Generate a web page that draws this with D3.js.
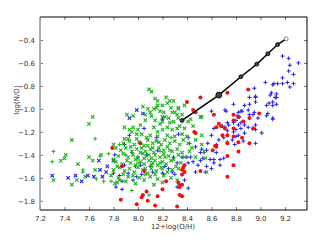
<!DOCTYPE html>
<html>
<head>
<meta charset="utf-8">
<script src="https://cdn.jsdelivr.net/npm/d3@7"></script>
<style>
body { margin: 0; background: #fff; font-family: "DejaVu Sans", Arial, sans-serif; }
svg { font-size: 7px; }
.tick text { fill: #333; }
.tick line { stroke: #777; }
.axis path { display: none; }
</style>
</head>
<body>
<svg id="chart" width="327" height="247"></svg>
<script>
// tick labels
var xTicks = [7.2, 7.4, 7.6, 7.8, 8.0, 8.2, 8.4, 8.6, 8.8, 9.0, 9.2];
var yTicks = [-0.4, -0.6, -0.8, -1.0, -1.2, -1.4, -1.6, -1.8];

// green "x" sample
var greenX = [
  [7.63,-1.07],[7.60,-1.13],[7.46,-1.27],[7.31,-1.62],[7.46,-1.66],[7.41,-1.40],[7.40,-1.43],
  [7.37,-1.45],[7.51,-1.48],[7.50,-1.62],[7.70,-1.40],[7.60,-1.42],[7.63,-1.45],[7.80,-1.31],
  [7.82,-1.34],[7.57,-1.59],[7.81,-1.65],[7.85,-1.62],[7.83,-1.50],[7.80,-1.44],[7.65,-1.53],
  [8.09,-0.83],[8.14,-0.91],[8.16,-0.93],[8.23,-0.90],[8.26,-0.93],[8.29,-0.93],[8.24,-0.95],
  [8.04,-0.98],[8.08,-1.00],[8.10,-1.03],[8.15,-0.99],[8.20,-0.97],[8.28,-1.03],[8.30,-1.03],
  [8.33,-0.99],[7.91,-1.05],[7.96,-1.06],[8.06,-1.10],[8.11,-1.06],[8.14,-1.10],[8.20,-1.07],
  [8.25,-1.08],[8.29,-1.11],[8.33,-1.08],[7.89,-1.16],[7.93,-1.18],[7.96,-1.16],[7.99,-1.22],
  [8.03,-1.22],[8.10,-1.23],[8.16,-1.20],[8.20,-1.18],[8.24,-1.16],[8.28,-1.18],[8.32,-1.17],
  [8.16,-1.24],[8.24,-1.23],[8.30,-1.24],[7.89,-1.26],[7.92,-1.26],[7.99,-1.26],
  [8.11,-0.85],[8.38,-0.97],[8.33,-1.00],[8.32,-1.05],[8.43,-1.09],[8.52,-1.07],[8.45,-1.15],
  [8.16,-0.97],[8.13,-1.00],[8.21,-1.03],[8.22,-1.07],[8.20,-1.11],[8.26,-1.12],[8.34,-1.15],
  [8.41,-1.11],[8.38,-1.17],
  [7.88,-1.30],[7.93,-1.28],[7.97,-1.31],[8.01,-1.29],[8.05,-1.32],[8.08,-1.27],[8.12,-1.30],
  [8.15,-1.28],[8.19,-1.31],[8.22,-1.27],[8.26,-1.30],[8.30,-1.28],[8.34,-1.31],[8.37,-1.27],[8.41,-1.30],
  [7.86,-1.36],[7.90,-1.34],[7.95,-1.37],[7.99,-1.35],[8.03,-1.34],[8.06,-1.37],[8.10,-1.35],
  [8.13,-1.38],[8.17,-1.34],[8.21,-1.36],[8.24,-1.33],[8.28,-1.37],[8.32,-1.35],[8.36,-1.38],[8.44,-1.34],
  [7.84,-1.41],[7.88,-1.39],[7.92,-1.42],[7.96,-1.40],[8.00,-1.43],[8.04,-1.39],[8.07,-1.41],
  [8.11,-1.43],[8.14,-1.40],[8.18,-1.42],[8.21,-1.39],[8.25,-1.41],[8.29,-1.44],[8.33,-1.40],[8.38,-1.42],
  [7.82,-1.46],[7.87,-1.48],[7.91,-1.45],[7.94,-1.47],[7.98,-1.49],[8.02,-1.46],[8.05,-1.48],
  [8.09,-1.45],[8.12,-1.47],[8.16,-1.49],[8.20,-1.46],[8.23,-1.48],[8.27,-1.45],[8.31,-1.50],[8.35,-1.47],
  [7.80,-1.53],[7.85,-1.51],[7.89,-1.54],[7.93,-1.52],[7.97,-1.55],[8.00,-1.51],[8.04,-1.53],
  [8.08,-1.56],[8.11,-1.52],[8.15,-1.54],[8.19,-1.51],[8.24,-1.55],[8.28,-1.53],[8.33,-1.52],
  [7.78,-1.58],[7.84,-1.60],[7.88,-1.57],[7.92,-1.59],[7.96,-1.58],[8.01,-1.60],[8.06,-1.57],
  [8.10,-1.59],[8.16,-1.61],[8.21,-1.58],[8.27,-1.60],
  [7.83,-1.64],[7.90,-1.63],[7.98,-1.65],[8.05,-1.62],[8.13,-1.66],[8.20,-1.64],[8.32,-1.62],
  [8.51,-1.07],[8.52,-1.23],[8.52,-1.31],[8.54,-1.37],[8.55,-1.43],[8.56,-1.55],
  [7.95,-1.20],[8.07,-1.25],[8.13,-1.16],[8.02,-1.14],[8.18,-1.13],[8.36,-1.22],[8.40,-1.24],
  [8.47,-1.27],[8.42,-1.37],[8.47,-1.42],
  [8.05,-1.43],[8.09,-1.40],[8.14,-1.45],[8.18,-1.47],[8.08,-1.32],[8.12,-1.34],[8.17,-1.29],
  [8.02,-1.38],[8.22,-1.42],[8.26,-1.36],[7.98,-1.44],[8.11,-1.49],[8.20,-1.52],[8.06,-1.52],
  [8.14,-1.57],[7.94,-1.33],[8.00,-1.18],[8.06,-1.05],[8.18,-1.02],[8.27,-0.99],[8.36,-1.05]
];
var greenPlus = [
  [7.65,-1.26],[7.31,-1.37],[7.30,-1.46],[7.69,-1.41],[7.76,-1.39],[7.85,-1.31],[7.55,-1.53],
  [7.55,-1.55],[7.66,-1.61],[7.72,-1.63],[7.78,-1.63],[7.95,-1.71],[8.09,-1.75],[8.00,-1.47],
  [8.18,-1.37],[8.27,-1.25],[7.90,-1.40]
];

// blue sample
var blueX = [
  [7.30,-1.58],[7.43,-1.60],[7.49,-1.58],[7.54,-1.63],[7.59,-1.58],[7.64,-1.59],[7.68,-1.45],
  [7.69,-1.53],[7.71,-1.59],[7.74,-1.55],[7.75,-1.50],[7.80,-1.45],[7.99,-1.01],[8.04,-1.04],
  [7.93,-1.08]
];
var bluePlus = [
  [9.18,-0.54],[9.23,-0.56],[9.31,-0.60],[9.24,-0.62],[9.23,-0.67],[9.27,-0.70],[9.18,-0.73],
  [9.22,-0.77],[9.27,-0.78],[9.04,-0.77],[9.11,-0.78],[9.14,-0.78],[9.09,-0.86],[9.13,-0.87],
  [9.13,-0.90],[9.07,-0.95],[9.13,-0.96],[8.96,-0.90],[9.05,-1.06],[9.10,-1.08],[8.91,-0.96],
  [8.87,-0.97],[8.85,-1.02],[8.90,-1.01],[8.94,-1.05],[8.98,-1.08],[8.82,-1.03],[8.80,-1.10],
  [8.82,-1.14],[8.87,-1.14],[8.90,-1.16],[8.94,-1.17],[8.80,-1.18],[8.84,-1.17],[8.87,-1.21],
  [8.96,-1.18],[9.01,-1.21],[8.80,-1.24],[8.86,-1.28],[8.96,-1.30],[8.79,-1.31],
  [8.78,-0.96],[8.72,-1.02],[8.84,-1.02],[8.81,-1.06],[8.83,-1.07],[8.91,-1.05],[8.95,-1.03],
  [9.05,-0.97],[9.10,-0.97],[8.96,-1.14],[8.84,-1.12],[8.78,-1.12],[8.74,-1.14],[8.71,-1.16],
  [8.69,-1.15],[8.73,-1.19],[8.78,-1.20],[8.82,-1.23],[8.70,-1.25],[8.77,-1.27],[8.73,-1.29],
  [8.66,-1.27],[8.64,-1.31],[8.56,-1.36],[8.64,-1.38],[8.70,-1.43],[8.67,-1.49],[8.62,-1.47],
  [8.56,-1.50],[8.57,-1.30],[8.60,-1.23],[8.62,-1.17],[8.53,-1.43],[8.51,-1.45],[8.54,-1.38],
  [8.52,-1.35],[8.51,-1.38],[8.59,-1.44],[8.62,-1.44],[8.67,-1.44],[8.60,-1.52],[8.55,-1.55],
  [8.49,-1.49],[8.45,-1.46],[8.47,-1.55],[8.41,-1.47],[8.43,-1.42],[8.40,-1.42],[8.36,-1.42],
  [8.47,-1.33],[8.42,-1.30],[8.41,-1.25],[8.38,-1.62],[8.34,-1.66],[8.32,-1.68],[8.41,-1.69],
  [8.71,-1.01],[8.73,-1.12],[8.20,-1.09],[8.60,-1.02],[8.96,-0.94],[8.95,-0.82],[8.91,-0.90],
  [8.96,-0.89],[9.10,-0.79],[9.08,-0.88],[9.12,-0.90],[9.18,-0.78],[9.24,-0.81],[9.10,-0.94],
  [9.06,-1.04],[9.10,-1.09],
  [7.81,-1.40],[7.89,-1.31],[7.89,-1.49],[7.92,-1.56],[7.87,-1.63],[7.82,-1.68],[7.87,-1.70],
  [7.96,-1.62],[7.99,-1.59],[8.03,-1.57],[7.98,-1.50],[8.02,-1.49],[8.10,-1.50],[8.20,-1.56],
  [8.21,-1.57],[8.28,-1.55],[8.30,-1.57],[8.16,-1.36],[8.07,-1.40],[8.00,-1.42],[7.95,-1.38],
  [7.80,-1.56],[8.29,-1.42],[8.32,-1.47],[8.22,-1.50],[7.93,-1.23],[8.05,-1.17],[8.15,-1.25],
  [8.33,-1.22],[8.25,-1.52],[8.12,-1.55],[7.85,-1.58]
];

// red sample
var red = [
  [7.79,-1.34],[8.02,-1.30],[7.87,-1.50],[8.05,-1.54],[8.23,-1.63],[8.07,-1.72],[8.04,-1.75],
  [8.03,-1.77],[8.08,-1.80],[8.16,-1.76],[7.86,-1.79],[7.99,-1.83],[8.14,-1.84],[8.32,-1.85],
  [8.36,-1.66],[8.36,-1.76],[8.34,-1.68],[8.37,-1.51],[8.36,-1.53],[8.38,-1.55],[8.36,-1.57],
  [8.33,-1.64],[8.20,-1.70],[8.38,-1.49],[8.51,-1.54],[8.46,-1.20],[8.47,-1.03],[8.40,-0.94],
  [8.51,-0.90],[8.45,-1.01],[8.73,-0.86],[8.90,-0.83],[8.62,-1.05],[8.78,-1.05],[8.82,-1.07],
  [8.78,-1.10],[8.86,-1.11],[8.91,-1.08],[8.99,-1.04],[8.94,-1.17],[8.66,-1.13],[8.68,-1.15],
  [8.64,-1.16],[8.71,-1.17],[8.78,-1.17],[8.69,-1.23],[8.73,-1.23],[8.78,-1.24],[8.85,-1.25],
  [8.73,-1.30],[8.82,-1.29],[8.91,-1.30],[8.63,-1.32],[8.64,-1.33],[8.82,-1.37],[8.61,-1.36],
  [8.73,-1.41],[8.78,-1.49],[8.73,-1.59],[8.34,-1.75],[8.47,-1.21]
];

// model track
var track = [[8.36,-1.10],[8.66,-0.88],[8.84,-0.72],[8.97,-0.61],[9.06,-0.52],[9.14,-0.44],[9.21,-0.39]];

var m = {left: 40, right: 307, top: 17, bottom: 210};
var x = d3.scaleLinear().domain([7.2, 9.38]).range([m.left, m.right]);
var y = d3.scaleLinear().domain([-1.88, -0.2]).range([m.bottom, m.top]);

var svg = d3.select("#chart");

function styleAxis(g) {
    g.attr("font-size", 7).attr("font-family", "DejaVu Sans, Arial, sans-serif");
}

// axes, ticks inward
svg.append("g").attr("class", "axis")
    .attr("transform", "translate(0," + m.bottom + ")")
    .call(d3.axisBottom(x).tickValues(xTicks).tickFormat(d3.format(".1f"))
        .tickSizeInner(-3).tickSizeOuter(0).tickPadding(6))
    .call(styleAxis);
svg.append("g").attr("class", "axis")
    .attr("transform", "translate(0," + m.top + ")")
    .call(d3.axisTop(x).tickValues(xTicks).tickFormat("")
        .tickSizeInner(-3).tickSizeOuter(0));
svg.append("g").attr("class", "axis")
    .attr("transform", "translate(" + m.left + ",0)")
    .call(d3.axisLeft(y).tickValues(yTicks).tickFormat(d3.format(".1f"))
        .tickSizeInner(-3).tickSizeOuter(0).tickPadding(5))
    .call(styleAxis);
svg.append("g").attr("class", "axis")
    .attr("transform", "translate(" + m.right + ",0)")
    .call(d3.axisRight(y).tickValues(yTicks).tickFormat("")
        .tickSizeInner(-3).tickSizeOuter(0));

// frame
svg.append("path").attr("fill", "none").attr("stroke", "#000").attr("stroke-width", 1)
    .attr("d", "M" + m.left + "," + m.top + "H" + m.right + "V" + m.bottom + "H" + m.left);
svg.append("line").attr("x1", m.left).attr("x2", m.left).attr("y1", m.top).attr("y2", m.bottom)
    .attr("stroke", "#999").attr("stroke-width", 1.6);

var pts = svg.append("g");
var s = 1.7;

function cross(g, data, color) {
    g.selectAll(null).data(data).enter().append("path")
        .attr("d", function(d) {
            var cx = x(d[0]), cy = y(d[1]);
            return "M" + (cx - s) + "," + (cy - s) + "L" + (cx + s) + "," + (cy + s) +
                   "M" + (cx - s) + "," + (cy + s) + "L" + (cx + s) + "," + (cy - s);
        })
        .attr("stroke", color).attr("stroke-width", 1.15).attr("fill", "none");
}
function plus(g, data, color) {
    g.selectAll(null).data(data).enter().append("path")
        .attr("d", function(d) {
            var cx = x(d[0]), cy = y(d[1]);
            return "M" + (cx - 2) + "," + cy + "H" + (cx + 2) + "M" + cx + "," + (cy - 2) + "V" + (cy + 2);
        })
        .attr("stroke", color).attr("stroke-width", 1).attr("fill", "none");
}

cross(pts, blueX, "#2424f0");
plus(pts, bluePlus, "#2424f0");
cross(pts, greenX, "#1fb41f");
plus(pts, greenPlus, "#1fb41f");

pts.selectAll(null).data(red).enter().append("circle")
    .attr("cx", function(d) { return x(d[0]); })
    .attr("cy", function(d) { return y(d[1]); })
    .attr("r", 2).attr("fill", "#f01010");

// track line and markers
svg.append("path").datum(track)
    .attr("fill", "none").attr("stroke", "#000").attr("stroke-width", 1.5)
    .attr("d", d3.line().x(function(d) { return x(d[0]); }).y(function(d) { return y(d[1]); }));
svg.selectAll(null).data(track).enter().append("circle")
    .attr("cx", function(d) { return x(d[0]); })
    .attr("cy", function(d) { return y(d[1]); })
    .attr("r", function(d, i) { return i == 1 ? 3 : 2; })
    .attr("fill", function(d, i) { return i == track.length - 1 ? "#fff" : "#444"; })
    .attr("stroke", function(d, i) { return i == track.length - 1 ? "#666" : "#000"; })
    .attr("stroke-width", 0.8);

// axis titles
svg.append("text").attr("x", 173).attr("y", 229).attr("text-anchor", "middle")
    .attr("fill", "#333").text("12+log(O/H)");
svg.append("text").attr("transform", "translate(19,100) rotate(-90)")
    .attr("text-anchor", "middle").attr("fill", "#333").text("log(N/O)");
</script>
</body>
</html>
